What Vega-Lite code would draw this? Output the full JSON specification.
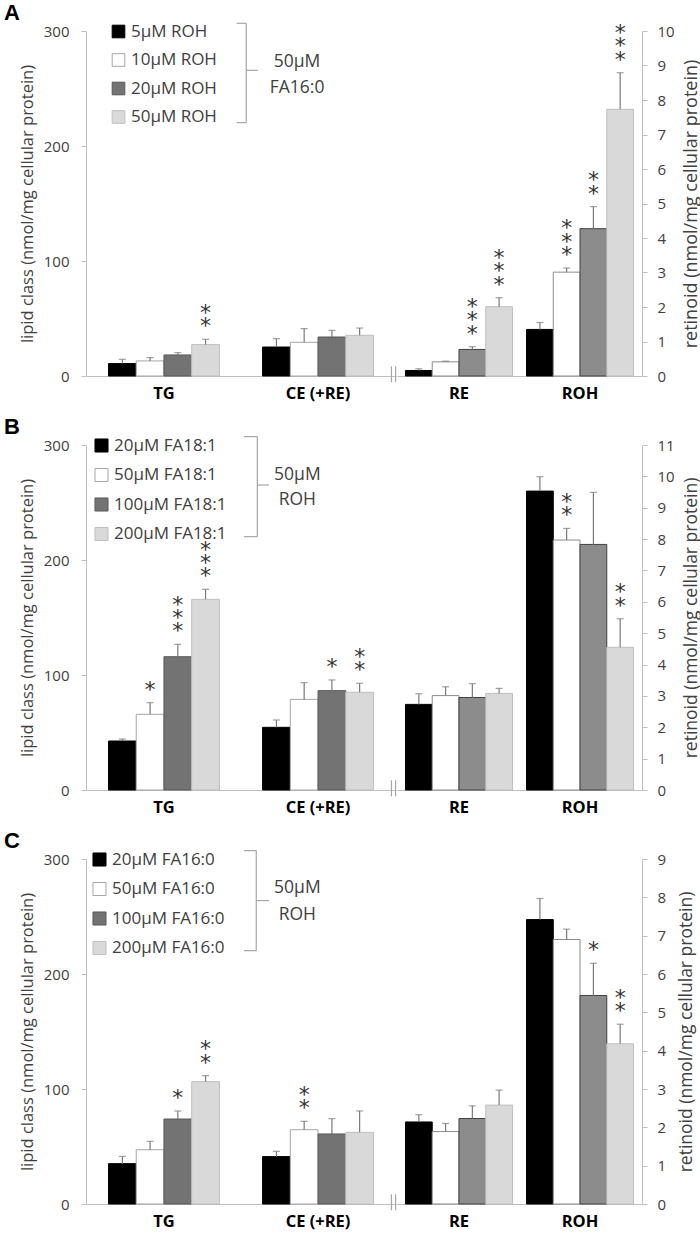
{
  "$schema": "https://vega.github.io/schema/vega-lite/v6.json",
  "padding": {"left": 3, "top": 1, "right": 0, "bottom": 0},
  "spacing": 13,
  "config": {
    "font": "Open Sans",
    "view": {"stroke": null},
    "axis": {"domainColor": "#bfbfbf", "tickColor": "#bfbfbf", "labelColor": "#404040", "titleColor": "#404040", "labelFont": "Open Sans", "titleFont": "Open Sans", "titleFontWeight": "normal", "grid": false, "tickSize": 5, "labelFontSize": 15},
    "title": {"font": "Liberation Sans", "fontSize": 22, "fontWeight": "bold", "color": "#000000", "anchor": "start", "offset": -2.5}
  },
  "datasets": {
    "bars": [
      {"panel": "A", "side": "L", "grp": "TG", "level": 1, "cond": "5µM ROH", "v": 10.8, "hi": 14.5, "sig": ""},
      {"panel": "A", "side": "L", "grp": "TG", "level": 2, "cond": "10µM ROH", "v": 13.1, "hi": 16.0, "sig": ""},
      {"panel": "A", "side": "L", "grp": "TG", "level": 3, "cond": "20µM ROH", "v": 18.3, "hi": 20.3, "sig": ""},
      {"panel": "A", "side": "L", "grp": "TG", "level": 4, "cond": "50µM ROH", "v": 27.3, "hi": 31.9, "sig": "**"},
      {"panel": "A", "side": "L", "grp": "CE (+RE)", "level": 1, "cond": "5µM ROH", "v": 25.2, "hi": 32.5, "sig": ""},
      {"panel": "A", "side": "L", "grp": "CE (+RE)", "level": 2, "cond": "10µM ROH", "v": 29.3, "hi": 41.2, "sig": ""},
      {"panel": "A", "side": "L", "grp": "CE (+RE)", "level": 3, "cond": "20µM ROH", "v": 33.9, "hi": 39.7, "sig": ""},
      {"panel": "A", "side": "L", "grp": "CE (+RE)", "level": 4, "cond": "50µM ROH", "v": 35.4, "hi": 41.7, "sig": ""},
      {"panel": "A", "side": "R", "grp": "RE", "level": 1, "cond": "5µM ROH", "v": 0.16, "hi": 0.21, "sig": ""},
      {"panel": "A", "side": "R", "grp": "RE", "level": 2, "cond": "10µM ROH", "v": 0.41, "hi": 0.43, "sig": ""},
      {"panel": "A", "side": "R", "grp": "RE", "level": 3, "cond": "20µM ROH", "v": 0.77, "hi": 0.85, "sig": "***"},
      {"panel": "A", "side": "R", "grp": "RE", "level": 4, "cond": "50µM ROH", "v": 2.01, "hi": 2.27, "sig": "***"},
      {"panel": "A", "side": "R", "grp": "ROH", "level": 1, "cond": "5µM ROH", "v": 1.35, "hi": 1.55, "sig": ""},
      {"panel": "A", "side": "R", "grp": "ROH", "level": 2, "cond": "10µM ROH", "v": 3.01, "hi": 3.13, "sig": "***"},
      {"panel": "A", "side": "R", "grp": "ROH", "level": 3, "cond": "20µM ROH", "v": 4.27, "hi": 4.91, "sig": "**"},
      {"panel": "A", "side": "R", "grp": "ROH", "level": 4, "cond": "50µM ROH", "v": 7.73, "hi": 8.79, "sig": "***"},

      {"panel": "B", "side": "L", "grp": "TG", "level": 1, "cond": "20µM FA18:1", "v": 42.6, "hi": 44.3, "sig": ""},
      {"panel": "B", "side": "L", "grp": "TG", "level": 2, "cond": "50µM FA18:1", "v": 65.8, "hi": 75.9, "sig": "*"},
      {"panel": "B", "side": "L", "grp": "TG", "level": 3, "cond": "100µM FA18:1", "v": 115.9, "hi": 126.7, "sig": "***"},
      {"panel": "B", "side": "L", "grp": "TG", "level": 4, "cond": "200µM FA18:1", "v": 165.8, "hi": 174.5, "sig": "***"},
      {"panel": "B", "side": "L", "grp": "CE (+RE)", "level": 1, "cond": "20µM FA18:1", "v": 54.5, "hi": 60.9, "sig": ""},
      {"panel": "B", "side": "L", "grp": "CE (+RE)", "level": 2, "cond": "50µM FA18:1", "v": 78.8, "hi": 93.3, "sig": ""},
      {"panel": "B", "side": "L", "grp": "CE (+RE)", "level": 3, "cond": "100µM FA18:1", "v": 86.4, "hi": 95.7, "sig": "*"},
      {"panel": "B", "side": "L", "grp": "CE (+RE)", "level": 4, "cond": "200µM FA18:1", "v": 85.0, "hi": 92.8, "sig": "**"},
      {"panel": "B", "side": "R", "grp": "RE", "level": 1, "cond": "20µM FA18:1", "v": 2.73, "hi": 3.07, "sig": ""},
      {"panel": "B", "side": "R", "grp": "RE", "level": 2, "cond": "50µM FA18:1", "v": 3.01, "hi": 3.29, "sig": ""},
      {"panel": "B", "side": "R", "grp": "RE", "level": 3, "cond": "100µM FA18:1", "v": 2.95, "hi": 3.39, "sig": ""},
      {"panel": "B", "side": "R", "grp": "RE", "level": 4, "cond": "200µM FA18:1", "v": 3.08, "hi": 3.24, "sig": ""},
      {"panel": "B", "side": "R", "grp": "ROH", "level": 1, "cond": "20µM FA18:1", "v": 9.53, "hi": 9.99, "sig": ""},
      {"panel": "B", "side": "R", "grp": "ROH", "level": 2, "cond": "50µM FA18:1", "v": 7.97, "hi": 8.34, "sig": "**"},
      {"panel": "B", "side": "R", "grp": "ROH", "level": 3, "cond": "100µM FA18:1", "v": 7.83, "hi": 9.49, "sig": ""},
      {"panel": "B", "side": "R", "grp": "ROH", "level": 4, "cond": "200µM FA18:1", "v": 4.55, "hi": 5.46, "sig": "**"},

      {"panel": "C", "side": "L", "grp": "TG", "level": 1, "cond": "20µM FA16:0", "v": 35.1, "hi": 41.4, "sig": ""},
      {"panel": "C", "side": "L", "grp": "TG", "level": 2, "cond": "50µM FA16:0", "v": 47.2, "hi": 54.5, "sig": ""},
      {"panel": "C", "side": "L", "grp": "TG", "level": 3, "cond": "100µM FA16:0", "v": 73.9, "hi": 80.9, "sig": "*"},
      {"panel": "C", "side": "L", "grp": "TG", "level": 4, "cond": "200µM FA16:0", "v": 106.4, "hi": 111.6, "sig": "**"},
      {"panel": "C", "side": "L", "grp": "CE (+RE)", "level": 1, "cond": "20µM FA16:0", "v": 41.2, "hi": 45.8, "sig": ""},
      {"panel": "C", "side": "L", "grp": "CE (+RE)", "level": 2, "cond": "50µM FA16:0", "v": 64.6, "hi": 71.9, "sig": "**"},
      {"panel": "C", "side": "L", "grp": "CE (+RE)", "level": 3, "cond": "100µM FA16:0", "v": 60.9, "hi": 74.2, "sig": ""},
      {"panel": "C", "side": "L", "grp": "CE (+RE)", "level": 4, "cond": "200µM FA16:0", "v": 62.3, "hi": 80.9, "sig": ""},
      {"panel": "C", "side": "R", "grp": "RE", "level": 1, "cond": "20µM FA16:0", "v": 2.14, "hi": 2.33, "sig": ""},
      {"panel": "C", "side": "R", "grp": "RE", "level": 2, "cond": "50µM FA16:0", "v": 1.89, "hi": 2.10, "sig": ""},
      {"panel": "C", "side": "R", "grp": "RE", "level": 3, "cond": "100µM FA16:0", "v": 2.23, "hi": 2.56, "sig": ""},
      {"panel": "C", "side": "R", "grp": "RE", "level": 4, "cond": "200µM FA16:0", "v": 2.58, "hi": 2.97, "sig": ""},
      {"panel": "C", "side": "R", "grp": "ROH", "level": 1, "cond": "20µM FA16:0", "v": 7.42, "hi": 7.97, "sig": ""},
      {"panel": "C", "side": "R", "grp": "ROH", "level": 2, "cond": "50µM FA16:0", "v": 6.90, "hi": 7.17, "sig": ""},
      {"panel": "C", "side": "R", "grp": "ROH", "level": 3, "cond": "100µM FA16:0", "v": 5.44, "hi": 6.28, "sig": "*"},
      {"panel": "C", "side": "R", "grp": "ROH", "level": 4, "cond": "200µM FA16:0", "v": 4.18, "hi": 4.69, "sig": "**"}
    ],
    "notes": [
      {"panel": "A", "kind": "line", "u": 0.547, "u2": 0.547, "y1": 220.3, "y2": 306.7, "label": ""},
      {"panel": "A", "kind": "line", "u": 0.485, "u2": 0.547, "y1": 306.7, "y2": 306.7, "label": ""},
      {"panel": "A", "kind": "line", "u": 0.485, "u2": 0.547, "y1": 220.3, "y2": 220.3, "label": ""},
      {"panel": "A", "kind": "line", "u": 0.547, "u2": 0.623, "y1": 265.8, "y2": 265.8, "label": ""},
      {"panel": "A", "kind": "text", "u": 0.877, "u2": 0.877, "y1": 272.8, "y2": 272.8, "label": "50µM"},
      {"panel": "A", "kind": "text", "u": 0.877, "u2": 0.877, "y1": 250.2, "y2": 250.2, "label": "FA16:0"},
      {"panel": "A", "kind": "line", "u": 1.49, "u2": 1.49, "y1": -5.5, "y2": 8.4, "label": ""},
      {"panel": "A", "kind": "line", "u": 1.517, "u2": 1.517, "y1": -5.5, "y2": 8.4, "label": ""},
      {"panel": "B", "kind": "line", "u": 0.619, "u2": 0.619, "y1": 220.3, "y2": 307.3, "label": ""},
      {"panel": "B", "kind": "line", "u": 0.532, "u2": 0.619, "y1": 307.3, "y2": 307.3, "label": ""},
      {"panel": "B", "kind": "line", "u": 0.532, "u2": 0.619, "y1": 220.3, "y2": 220.3, "label": ""},
      {"panel": "B", "kind": "line", "u": 0.619, "u2": 0.695, "y1": 265.2, "y2": 265.2, "label": ""},
      {"panel": "B", "kind": "text", "u": 0.879, "u2": 0.879, "y1": 273.9, "y2": 273.9, "label": "50µM"},
      {"panel": "B", "kind": "text", "u": 0.879, "u2": 0.879, "y1": 252.2, "y2": 252.2, "label": "ROH"},
      {"panel": "B", "kind": "line", "u": 1.49, "u2": 1.49, "y1": -5.5, "y2": 8.4, "label": ""},
      {"panel": "B", "kind": "line", "u": 1.517, "u2": 1.517, "y1": -5.5, "y2": 8.4, "label": ""},
      {"panel": "C", "kind": "line", "u": 0.612, "u2": 0.612, "y1": 220.3, "y2": 307.3, "label": ""},
      {"panel": "C", "kind": "line", "u": 0.532, "u2": 0.612, "y1": 307.3, "y2": 307.3, "label": ""},
      {"panel": "C", "kind": "line", "u": 0.532, "u2": 0.612, "y1": 220.3, "y2": 220.3, "label": ""},
      {"panel": "C", "kind": "line", "u": 0.612, "u2": 0.695, "y1": 263.8, "y2": 263.8, "label": ""},
      {"panel": "C", "kind": "text", "u": 0.879, "u2": 0.879, "y1": 274.8, "y2": 274.8, "label": "50µM"},
      {"panel": "C", "kind": "text", "u": 0.879, "u2": 0.879, "y1": 251.3, "y2": 251.3, "label": "ROH"},
      {"panel": "C", "kind": "line", "u": 1.49, "u2": 1.49, "y1": -5.5, "y2": 8.4, "label": ""},
      {"panel": "C", "kind": "line", "u": 1.517, "u2": 1.517, "y1": -5.5, "y2": 8.4, "label": ""}
    ]
  },
  "resolve": {"scale": {"x": "independent", "y": "independent", "xOffset": "independent", "color": "independent", "stroke": "independent"}, "legend": {"color": "independent", "stroke": "independent"}},
  "vconcat": [
    {
      "title": {"text": "A", "dx": -15},
      "spacing": 0,
      "resolve": {"scale": {"x": "independent", "y": "independent", "xOffset": "independent", "color": "independent", "stroke": "independent"}, "legend": {"color": "independent", "stroke": "independent"}},
      "hconcat": [
        {
          "width": 310, "height": 345,
          "resolve": {"scale": {"x": "independent"}, "axis": {"x": "independent"}},
          "layer": [
            {
              "data": {"name": "bars"},
              "transform": [{"filter": "datum.panel == 'A' && datum.side == 'L'"}],
              "encoding": {
                "x": {"field": "grp", "type": "nominal", "sort": ["TG", "CE (+RE)"], "scale": {"paddingInner": 0.28, "paddingOuter": 0.146}, "axis": {"title": null, "ticks": false, "labelAngle": 0, "labelFontWeight": "bold", "labelColor": "#000000", "labelFontSize": 16.5, "labelPadding": 9}},
                "xOffset": {"field": "level", "type": "ordinal", "scale": {"paddingInner": 0, "paddingOuter": 0}},
                "y": {"field": "v", "type": "quantitative", "scale": {"domain": [0, 300], "nice": false}, "axis": {"values": [0, 100, 200, 300], "title": "lipid class (nmol/mg cellular protein)", "titleFontSize": 16.5, "labelPadding": 12, "titleX": -51, "titleAngle": 270, "titleBaseline": "bottom", "titleAlign": "center"}}
              },
              "layer": [
                {"mark": {"type": "bar", "strokeWidth": 1},
                 "encoding": {
                   "color": {"field": "cond", "type": "nominal", "scale": {"domain": ["5µM ROH", "10µM ROH", "20µM ROH", "50µM ROH"], "range": ["#000000", "#ffffff", "#737373", "#d9d9d9"]}, "legend": {"orient": "none", "legendX": 24, "legendY": -8, "title": null, "symbolType": "square", "symbolSize": 160, "symbolStrokeWidth": 1, "labelFontSize": 17, "labelColor": "#404040", "labelFont": "Open Sans", "rowPadding": 10.5, "labelOffset": 4, "padding": 0}},
                   "stroke": {"field": "cond", "type": "nominal", "scale": {"domain": ["5µM ROH", "10µM ROH", "20µM ROH", "50µM ROH"], "range": ["#000000", "#a6a6a6", "#595959", "#bfbfbf"]}, "legend": {"orient": "none", "legendX": 24, "legendY": -8, "title": null, "symbolType": "square", "symbolSize": 160, "symbolStrokeWidth": 1, "labelFontSize": 17, "labelColor": "#404040", "labelFont": "Open Sans", "rowPadding": 10.5, "labelOffset": 4, "padding": 0}}
                 }},
                {"mark": {"type": "rule", "color": "#7a7a7a", "strokeWidth": 1.2}, "encoding": {"y2": {"field": "hi"}}},
                {"mark": {"type": "tick", "orient": "horizontal", "size": 7, "thickness": 1.2, "color": "#7a7a7a"}, "encoding": {"y": {"field": "hi", "type": "quantitative"}}},
                {"transform": [{"filter": "length(datum.sig) >= 1"}], "mark": {"type": "text", "baseline": "bottom", "font": "DejaVu Sans", "fontSize": 22, "dy": -1, "color": "#333333"}, "encoding": {"y": {"field": "hi", "type": "quantitative"}, "text": {"value": "*"}}},
                {"transform": [{"filter": "length(datum.sig) >= 2"}], "mark": {"type": "text", "baseline": "bottom", "font": "DejaVu Sans", "fontSize": 22, "dy": -14.3, "color": "#333333"}, "encoding": {"y": {"field": "hi", "type": "quantitative"}, "text": {"value": "*"}}},
                {"transform": [{"filter": "length(datum.sig) >= 3"}], "mark": {"type": "text", "baseline": "bottom", "font": "DejaVu Sans", "fontSize": 22, "dy": -27.6, "color": "#333333"}, "encoding": {"y": {"field": "hi", "type": "quantitative"}, "text": {"value": "*"}}}
              ]
            },
            {
              "data": {"name": "notes"},
              "transform": [{"filter": "datum.panel == 'A'"}],
              "encoding": {
                "x": {"field": "u", "type": "quantitative", "scale": {"domain": [-0.4935, 1.5195], "nice": false, "zero": false}, "axis": null},
                "y": {"field": "y1", "type": "quantitative"}
              },
              "layer": [
                {"transform": [{"filter": "datum.kind == 'line'"}], "mark": {"type": "rule", "color": "#a6a6a6", "strokeWidth": 1.2}, "encoding": {"x2": {"field": "u2"}, "y2": {"field": "y2"}}},
                {"transform": [{"filter": "datum.kind == 'text'"}], "mark": {"type": "text", "fontSize": 17.5, "color": "#404040", "baseline": "middle"}, "encoding": {"text": {"field": "label"}}}
              ]
            }
          ]
        },
        {
          "width": 245, "height": 345,
          "data": {"name": "bars"},
          "transform": [{"filter": "datum.panel == 'A' && datum.side == 'R'"}],
          "encoding": {
            "x": {"field": "grp", "type": "nominal", "sort": ["RE", "ROH"], "scale": {"paddingInner": 0.116, "paddingOuter": 0.07}, "axis": {"title": null, "ticks": false, "labelAngle": 0, "labelFontWeight": "bold", "labelColor": "#000000", "labelFontSize": 16.5, "labelPadding": 9}},
            "xOffset": {"field": "level", "type": "ordinal", "scale": {"paddingInner": 0, "paddingOuter": 0}},
            "y": {"field": "v", "type": "quantitative", "scale": {"domain": [0, 10], "nice": false}, "axis": {"orient": "right", "values": [0, 1, 2, 3, 4, 5, 6, 7, 8, 9, 10], "title": "retinoid (nmol/mg cellular protein)", "titleFontSize": 18, "titleAngle": 270, "titleBaseline": "top", "titleAlign": "center", "titleX": 40, "labelPadding": 10}}
          },
          "layer": [
            {"mark": {"type": "bar", "strokeWidth": 1},
             "encoding": {
               "color": {"field": "cond", "type": "nominal", "scale": {"domain": ["5µM ROH", "10µM ROH", "20µM ROH", "50µM ROH"], "range": ["#000000", "#ffffff", "#8c8c8c", "#d9d9d9"]}, "legend": null},
               "stroke": {"field": "cond", "type": "nominal", "scale": {"domain": ["5µM ROH", "10µM ROH", "20µM ROH", "50µM ROH"], "range": ["#000000", "#8c8c8c", "#404040", "#bfbfbf"]}, "legend": null}
             }},
            {"mark": {"type": "rule", "color": "#7a7a7a", "strokeWidth": 1.2}, "encoding": {"y2": {"field": "hi"}}},
            {"mark": {"type": "tick", "orient": "horizontal", "size": 7, "thickness": 1.2, "color": "#7a7a7a"}, "encoding": {"y": {"field": "hi", "type": "quantitative"}}},
            {"transform": [{"filter": "length(datum.sig) >= 1"}], "mark": {"type": "text", "baseline": "bottom", "font": "DejaVu Sans", "fontSize": 22, "dy": -1, "color": "#333333"}, "encoding": {"y": {"field": "hi", "type": "quantitative"}, "text": {"value": "*"}}},
            {"transform": [{"filter": "length(datum.sig) >= 2"}], "mark": {"type": "text", "baseline": "bottom", "font": "DejaVu Sans", "fontSize": 22, "dy": -14.3, "color": "#333333"}, "encoding": {"y": {"field": "hi", "type": "quantitative"}, "text": {"value": "*"}}},
            {"transform": [{"filter": "length(datum.sig) >= 3"}], "mark": {"type": "text", "baseline": "bottom", "font": "DejaVu Sans", "fontSize": 22, "dy": -27.6, "color": "#333333"}, "encoding": {"y": {"field": "hi", "type": "quantitative"}, "text": {"value": "*"}}}
          ]
        }
      ]
    },
    {
      "title": {"text": "B", "dx": -15},
      "spacing": 0,
      "resolve": {"scale": {"x": "independent", "y": "independent", "xOffset": "independent", "color": "independent", "stroke": "independent"}, "legend": {"color": "independent", "stroke": "independent"}},
      "hconcat": [
        {
          "width": 310, "height": 345,
          "resolve": {"scale": {"x": "independent"}, "axis": {"x": "independent"}},
          "layer": [
            {
              "data": {"name": "bars"},
              "transform": [{"filter": "datum.panel == 'B' && datum.side == 'L'"}],
              "encoding": {
                "x": {"field": "grp", "type": "nominal", "sort": ["TG", "CE (+RE)"], "scale": {"paddingInner": 0.28, "paddingOuter": 0.146}, "axis": {"title": null, "ticks": false, "labelAngle": 0, "labelFontWeight": "bold", "labelColor": "#000000", "labelFontSize": 16.5, "labelPadding": 9}},
                "xOffset": {"field": "level", "type": "ordinal", "scale": {"paddingInner": 0, "paddingOuter": 0}},
                "y": {"field": "v", "type": "quantitative", "scale": {"domain": [0, 300], "nice": false}, "axis": {"values": [0, 100, 200, 300], "title": "lipid class (nmol/mg cellular protein)", "titleFontSize": 16.5, "labelPadding": 12, "titleX": -51, "titleAngle": 270, "titleBaseline": "bottom", "titleAlign": "center"}}
              },
              "layer": [
                {"mark": {"type": "bar", "strokeWidth": 1},
                 "encoding": {
                   "color": {"field": "cond", "type": "nominal", "scale": {"domain": ["20µM FA18:1", "50µM FA18:1", "100µM FA18:1", "200µM FA18:1"], "range": ["#000000", "#ffffff", "#737373", "#d9d9d9"]}, "legend": {"orient": "none", "legendX": 7, "legendY": -8, "title": null, "symbolType": "square", "symbolSize": 170, "symbolStrokeWidth": 1, "labelFontSize": 17, "labelColor": "#404040", "labelFont": "Open Sans", "rowPadding": 10.5, "labelOffset": 4, "padding": 0}},
                   "stroke": {"field": "cond", "type": "nominal", "scale": {"domain": ["20µM FA18:1", "50µM FA18:1", "100µM FA18:1", "200µM FA18:1"], "range": ["#000000", "#a6a6a6", "#595959", "#bfbfbf"]}, "legend": {"orient": "none", "legendX": 7, "legendY": -8, "title": null, "symbolType": "square", "symbolSize": 170, "symbolStrokeWidth": 1, "labelFontSize": 17, "labelColor": "#404040", "labelFont": "Open Sans", "rowPadding": 10.5, "labelOffset": 4, "padding": 0}}
                 }},
                {"mark": {"type": "rule", "color": "#7a7a7a", "strokeWidth": 1.2}, "encoding": {"y2": {"field": "hi"}}},
                {"mark": {"type": "tick", "orient": "horizontal", "size": 7, "thickness": 1.2, "color": "#7a7a7a"}, "encoding": {"y": {"field": "hi", "type": "quantitative"}}},
                {"transform": [{"filter": "length(datum.sig) >= 1"}], "mark": {"type": "text", "baseline": "bottom", "font": "DejaVu Sans", "fontSize": 22, "dy": -1, "color": "#333333"}, "encoding": {"y": {"field": "hi", "type": "quantitative"}, "text": {"value": "*"}}},
                {"transform": [{"filter": "length(datum.sig) >= 2"}], "mark": {"type": "text", "baseline": "bottom", "font": "DejaVu Sans", "fontSize": 22, "dy": -14.3, "color": "#333333"}, "encoding": {"y": {"field": "hi", "type": "quantitative"}, "text": {"value": "*"}}},
                {"transform": [{"filter": "length(datum.sig) >= 3"}], "mark": {"type": "text", "baseline": "bottom", "font": "DejaVu Sans", "fontSize": 22, "dy": -27.6, "color": "#333333"}, "encoding": {"y": {"field": "hi", "type": "quantitative"}, "text": {"value": "*"}}}
              ]
            },
            {
              "data": {"name": "notes"},
              "transform": [{"filter": "datum.panel == 'B'"}],
              "encoding": {
                "x": {"field": "u", "type": "quantitative", "scale": {"domain": [-0.4935, 1.5195], "nice": false, "zero": false}, "axis": null},
                "y": {"field": "y1", "type": "quantitative"}
              },
              "layer": [
                {"transform": [{"filter": "datum.kind == 'line'"}], "mark": {"type": "rule", "color": "#a6a6a6", "strokeWidth": 1.2}, "encoding": {"x2": {"field": "u2"}, "y2": {"field": "y2"}}},
                {"transform": [{"filter": "datum.kind == 'text'"}], "mark": {"type": "text", "fontSize": 17.5, "color": "#404040", "baseline": "middle"}, "encoding": {"text": {"field": "label"}}}
              ]
            }
          ]
        },
        {
          "width": 245, "height": 345,
          "data": {"name": "bars"},
          "transform": [{"filter": "datum.panel == 'B' && datum.side == 'R'"}],
          "encoding": {
            "x": {"field": "grp", "type": "nominal", "sort": ["RE", "ROH"], "scale": {"paddingInner": 0.116, "paddingOuter": 0.07}, "axis": {"title": null, "ticks": false, "labelAngle": 0, "labelFontWeight": "bold", "labelColor": "#000000", "labelFontSize": 16.5, "labelPadding": 9}},
            "xOffset": {"field": "level", "type": "ordinal", "scale": {"paddingInner": 0, "paddingOuter": 0}},
            "y": {"field": "v", "type": "quantitative", "scale": {"domain": [0, 11], "nice": false}, "axis": {"orient": "right", "values": [0, 1, 2, 3, 4, 5, 6, 7, 8, 9, 10, 11], "title": "retinoid (nmol/mg cellular protein)", "titleFontSize": 17.5, "titleAngle": 270, "titleBaseline": "top", "titleAlign": "center", "titleX": 40, "labelPadding": 10}}
          },
          "layer": [
            {"mark": {"type": "bar", "strokeWidth": 1},
             "encoding": {
               "color": {"field": "cond", "type": "nominal", "scale": {"domain": ["20µM FA18:1", "50µM FA18:1", "100µM FA18:1", "200µM FA18:1"], "range": ["#000000", "#ffffff", "#8c8c8c", "#d9d9d9"]}, "legend": null},
               "stroke": {"field": "cond", "type": "nominal", "scale": {"domain": ["20µM FA18:1", "50µM FA18:1", "100µM FA18:1", "200µM FA18:1"], "range": ["#000000", "#8c8c8c", "#404040", "#bfbfbf"]}, "legend": null}
             }},
            {"mark": {"type": "rule", "color": "#7a7a7a", "strokeWidth": 1.2}, "encoding": {"y2": {"field": "hi"}}},
            {"mark": {"type": "tick", "orient": "horizontal", "size": 7, "thickness": 1.2, "color": "#7a7a7a"}, "encoding": {"y": {"field": "hi", "type": "quantitative"}}},
            {"transform": [{"filter": "length(datum.sig) >= 1"}], "mark": {"type": "text", "baseline": "bottom", "font": "DejaVu Sans", "fontSize": 22, "dy": -1, "color": "#333333"}, "encoding": {"y": {"field": "hi", "type": "quantitative"}, "text": {"value": "*"}}},
            {"transform": [{"filter": "length(datum.sig) >= 2"}], "mark": {"type": "text", "baseline": "bottom", "font": "DejaVu Sans", "fontSize": 22, "dy": -14.3, "color": "#333333"}, "encoding": {"y": {"field": "hi", "type": "quantitative"}, "text": {"value": "*"}}},
            {"transform": [{"filter": "length(datum.sig) >= 3"}], "mark": {"type": "text", "baseline": "bottom", "font": "DejaVu Sans", "fontSize": 22, "dy": -27.6, "color": "#333333"}, "encoding": {"y": {"field": "hi", "type": "quantitative"}, "text": {"value": "*"}}}
          ]
        }
      ]
    },
    {
      "title": {"text": "C", "dx": -15},
      "spacing": 0,
      "resolve": {"scale": {"x": "independent", "y": "independent", "xOffset": "independent", "color": "independent", "stroke": "independent"}, "legend": {"color": "independent", "stroke": "independent"}},
      "hconcat": [
        {
          "width": 310, "height": 345,
          "resolve": {"scale": {"x": "independent"}, "axis": {"x": "independent"}},
          "layer": [
            {
              "data": {"name": "bars"},
              "transform": [{"filter": "datum.panel == 'C' && datum.side == 'L'"}],
              "encoding": {
                "x": {"field": "grp", "type": "nominal", "sort": ["TG", "CE (+RE)"], "scale": {"paddingInner": 0.28, "paddingOuter": 0.146}, "axis": {"title": null, "ticks": false, "labelAngle": 0, "labelFontWeight": "bold", "labelColor": "#000000", "labelFontSize": 16.5, "labelPadding": 9}},
                "xOffset": {"field": "level", "type": "ordinal", "scale": {"paddingInner": 0, "paddingOuter": 0}},
                "y": {"field": "v", "type": "quantitative", "scale": {"domain": [0, 300], "nice": false}, "axis": {"values": [0, 100, 200, 300], "title": "lipid class (nmol/mg cellular protein)", "titleFontSize": 16.5, "labelPadding": 12, "titleX": -51, "titleAngle": 270, "titleBaseline": "bottom", "titleAlign": "center"}}
              },
              "layer": [
                {"mark": {"type": "bar", "strokeWidth": 1},
                 "encoding": {
                   "color": {"field": "cond", "type": "nominal", "scale": {"domain": ["20µM FA16:0", "50µM FA16:0", "100µM FA16:0", "200µM FA16:0"], "range": ["#000000", "#ffffff", "#737373", "#d9d9d9"]}, "legend": {"orient": "none", "legendX": 5, "legendY": -8, "title": null, "symbolType": "square", "symbolSize": 170, "symbolStrokeWidth": 1, "labelFontSize": 17, "labelColor": "#404040", "labelFont": "Open Sans", "rowPadding": 10.5, "labelOffset": 4, "padding": 0}},
                   "stroke": {"field": "cond", "type": "nominal", "scale": {"domain": ["20µM FA16:0", "50µM FA16:0", "100µM FA16:0", "200µM FA16:0"], "range": ["#000000", "#a6a6a6", "#595959", "#bfbfbf"]}, "legend": {"orient": "none", "legendX": 5, "legendY": -8, "title": null, "symbolType": "square", "symbolSize": 170, "symbolStrokeWidth": 1, "labelFontSize": 17, "labelColor": "#404040", "labelFont": "Open Sans", "rowPadding": 10.5, "labelOffset": 4, "padding": 0}}
                 }},
                {"mark": {"type": "rule", "color": "#7a7a7a", "strokeWidth": 1.2}, "encoding": {"y2": {"field": "hi"}}},
                {"mark": {"type": "tick", "orient": "horizontal", "size": 7, "thickness": 1.2, "color": "#7a7a7a"}, "encoding": {"y": {"field": "hi", "type": "quantitative"}}},
                {"transform": [{"filter": "length(datum.sig) >= 1"}], "mark": {"type": "text", "baseline": "bottom", "font": "DejaVu Sans", "fontSize": 22, "dy": -1, "color": "#333333"}, "encoding": {"y": {"field": "hi", "type": "quantitative"}, "text": {"value": "*"}}},
                {"transform": [{"filter": "length(datum.sig) >= 2"}], "mark": {"type": "text", "baseline": "bottom", "font": "DejaVu Sans", "fontSize": 22, "dy": -14.3, "color": "#333333"}, "encoding": {"y": {"field": "hi", "type": "quantitative"}, "text": {"value": "*"}}},
                {"transform": [{"filter": "length(datum.sig) >= 3"}], "mark": {"type": "text", "baseline": "bottom", "font": "DejaVu Sans", "fontSize": 22, "dy": -27.6, "color": "#333333"}, "encoding": {"y": {"field": "hi", "type": "quantitative"}, "text": {"value": "*"}}}
              ]
            },
            {
              "data": {"name": "notes"},
              "transform": [{"filter": "datum.panel == 'C'"}],
              "encoding": {
                "x": {"field": "u", "type": "quantitative", "scale": {"domain": [-0.4935, 1.5195], "nice": false, "zero": false}, "axis": null},
                "y": {"field": "y1", "type": "quantitative"}
              },
              "layer": [
                {"transform": [{"filter": "datum.kind == 'line'"}], "mark": {"type": "rule", "color": "#a6a6a6", "strokeWidth": 1.2}, "encoding": {"x2": {"field": "u2"}, "y2": {"field": "y2"}}},
                {"transform": [{"filter": "datum.kind == 'text'"}], "mark": {"type": "text", "fontSize": 17.5, "color": "#404040", "baseline": "middle"}, "encoding": {"text": {"field": "label"}}}
              ]
            }
          ]
        },
        {
          "width": 245, "height": 345,
          "data": {"name": "bars"},
          "transform": [{"filter": "datum.panel == 'C' && datum.side == 'R'"}],
          "encoding": {
            "x": {"field": "grp", "type": "nominal", "sort": ["RE", "ROH"], "scale": {"paddingInner": 0.116, "paddingOuter": 0.07}, "axis": {"title": null, "ticks": false, "labelAngle": 0, "labelFontWeight": "bold", "labelColor": "#000000", "labelFontSize": 16.5, "labelPadding": 9}},
            "xOffset": {"field": "level", "type": "ordinal", "scale": {"paddingInner": 0, "paddingOuter": 0}},
            "y": {"field": "v", "type": "quantitative", "scale": {"domain": [0, 9], "nice": false}, "axis": {"orient": "right", "values": [0, 1, 2, 3, 4, 5, 6, 7, 8, 9], "title": "retinoid (nmol/mg cellular protein)", "titleFontSize": 17.5, "titleAngle": 270, "titleBaseline": "top", "titleAlign": "center", "titleX": 35, "labelPadding": 10}}
          },
          "layer": [
            {"mark": {"type": "bar", "strokeWidth": 1},
             "encoding": {
               "color": {"field": "cond", "type": "nominal", "scale": {"domain": ["20µM FA16:0", "50µM FA16:0", "100µM FA16:0", "200µM FA16:0"], "range": ["#000000", "#ffffff", "#8c8c8c", "#d9d9d9"]}, "legend": null},
               "stroke": {"field": "cond", "type": "nominal", "scale": {"domain": ["20µM FA16:0", "50µM FA16:0", "100µM FA16:0", "200µM FA16:0"], "range": ["#000000", "#8c8c8c", "#404040", "#bfbfbf"]}, "legend": null}
             }},
            {"mark": {"type": "rule", "color": "#7a7a7a", "strokeWidth": 1.2}, "encoding": {"y2": {"field": "hi"}}},
            {"mark": {"type": "tick", "orient": "horizontal", "size": 7, "thickness": 1.2, "color": "#7a7a7a"}, "encoding": {"y": {"field": "hi", "type": "quantitative"}}},
            {"transform": [{"filter": "length(datum.sig) >= 1"}], "mark": {"type": "text", "baseline": "bottom", "font": "DejaVu Sans", "fontSize": 22, "dy": -1, "color": "#333333"}, "encoding": {"y": {"field": "hi", "type": "quantitative"}, "text": {"value": "*"}}},
            {"transform": [{"filter": "length(datum.sig) >= 2"}], "mark": {"type": "text", "baseline": "bottom", "font": "DejaVu Sans", "fontSize": 22, "dy": -14.3, "color": "#333333"}, "encoding": {"y": {"field": "hi", "type": "quantitative"}, "text": {"value": "*"}}},
            {"transform": [{"filter": "length(datum.sig) >= 3"}], "mark": {"type": "text", "baseline": "bottom", "font": "DejaVu Sans", "fontSize": 22, "dy": -27.6, "color": "#333333"}, "encoding": {"y": {"field": "hi", "type": "quantitative"}, "text": {"value": "*"}}}
          ]
        }
      ]
    }
  ]
}
